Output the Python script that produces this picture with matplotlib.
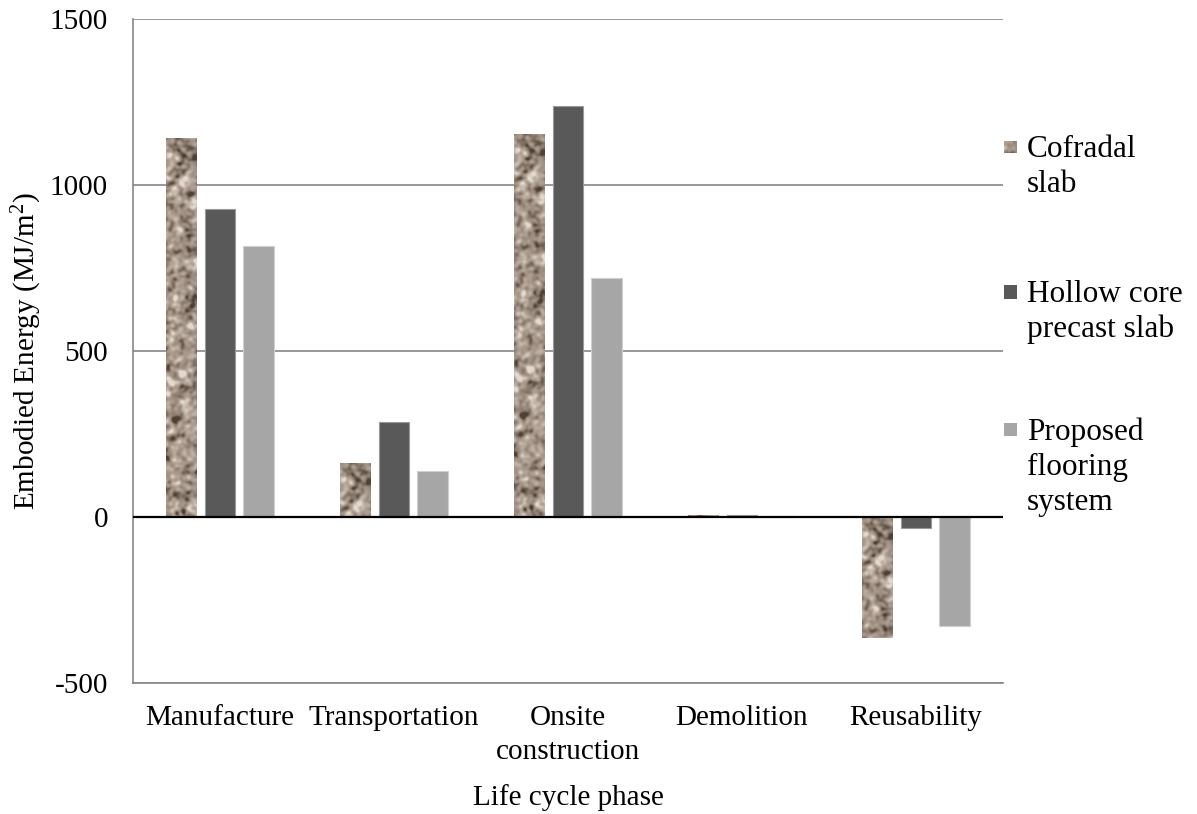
import numpy as np
import matplotlib
matplotlib.use("Agg")
import matplotlib.pyplot as plt
from matplotlib.colors import LinearSegmentedColormap
from matplotlib.patches import Rectangle

# ---- data -----------------------------------------------------------------
phases = ["Manufacture", "Transportation", "Onsite\nconstruction", "Demolition", "Reusability"]
series_names = ["Cofradal\nslab", "Hollow core\nprecast slab", "Proposed\nflooring\nsystem"]
cofradal = [1141, 163, 1154, 6, -364]
hollow_core = [928, 286, 1238, 5, -33]
proposed = [816, 139, 720, 4, -328]
y_ticks = [-500, 0, 500, 1000, 1500]

# ---- style ----------------------------------------------------------------
plt.rcParams["font.family"] = ["Liberation Serif", "DejaVu Serif"]
plt.rcParams["axes.unicode_minus"] = False
plt.rcParams["mathtext.fontset"] = "custom"
plt.rcParams["mathtext.rm"] = "Liberation Serif"
plt.rcParams["mathtext.it"] = "Liberation Serif:italic"
FS = 21
LFS = 22.5
W, H = 1197, 814

fig = plt.figure(figsize=(W / 100, H / 100), dpi=100)
ax = fig.add_axes([133 / W, 1 - 683 / H, (1003 - 133) / W, (683 - 19) / H])


def blur(a, s):
    ky = np.fft.fftfreq(a.shape[0])[:, None]
    kx = np.fft.fftfreq(a.shape[1])[None, :]
    g = np.exp(-2 * (np.pi * s) ** 2 * (ky ** 2 + kx ** 2))
    return np.real(np.fft.ifft2(np.fft.fft2(a) * g))


# granite-like stone texture for the cofradal fill
rng = np.random.default_rng(7)
stone = (blur(rng.standard_normal((520, 64)), 1.7) * 1.0
         + blur(rng.standard_normal((520, 64)), 3.5) * 1.2)
lo, hi = np.percentile(stone, 1), np.percentile(stone, 99)
stone = np.clip((stone - lo) / (hi - lo), 0, 1)
stone_cmap = LinearSegmentedColormap.from_list(
    "stone", ["#4f4035", "#7a6b5f", "#9a8b7e", "#ae9f92", "#c2b6a9", "#e2d9cf"])

x = np.arange(len(phases))
bw = 0.178
step = 0.2227
px_per_unit = (683 - 19) / 2000.0

# hollow core and proposed bars
ax.bar(x, hollow_core, width=bw, color="#595959", edgecolor="#9a9a9a", linewidth=0.8, zorder=3)
ax.bar(x + step, proposed, width=bw, color="#a6a6a6", edgecolor="#d0d0d0", linewidth=0.8, zorder=3)

# cofradal bars with a stone texture clipped to each bar
cof_bars = ax.bar(x - step, cofradal, width=bw, color="#a89a8c", linewidth=0, zorder=3)
for i, rect in enumerate(cof_bars):
    v = cofradal[i]
    hpx = max(2, int(round(abs(v) * px_per_unit)))
    tex = stone[: hpx, 5:5 + 31]
    x0 = rect.get_x()
    im = ax.imshow(tex, cmap=stone_cmap, vmin=0, vmax=1, aspect="auto",
                   extent=[x0, x0 + bw, min(0, v), max(0, v)],
                   interpolation="bilinear", zorder=3.5)
    im.set_clip_path(rect)

ax.set_xlim(-0.5, len(phases) - 0.5)
ax.set_ylim(-500, 1500)
ax.set_aspect("auto")

# grid and zero line
ax.set_yticks(y_ticks)
ax.set_yticklabels([str(t) for t in y_ticks], fontsize=FS)
ax.yaxis.grid(True, color="#868686", linewidth=1.2, zorder=0)
ax.set_axisbelow(True)
ax.axhline(0, color="black", linewidth=1.6, zorder=4)

ax.set_xticks(x)
ax.set_xticklabels(phases, fontsize=FS, linespacing=1.4)
ax.tick_params(axis="y", length=0, pad=18)
ax.tick_params(axis="x", length=0, pad=16)

for side in ["top", "right"]:
    ax.spines[side].set_visible(False)
for side in ["left", "bottom"]:
    ax.spines[side].set_color("#868686")
    ax.spines[side].set_linewidth(1.2)

# axis titles
fig.text(27 / W, 1 - 351 / H, "Embodied Energy (MJ/m$^{2}$)", rotation=90,
         ha="center", va="center", fontsize=FS)
fig.text(568 / W, 1 - 805 / H, "Life cycle phase", ha="center", va="baseline", fontsize=FS)

# legend on the right
legend_baselines = [[157, 192], [302, 337], [440, 475, 510]]
tx = 1027 / W
for name, bases in zip(series_names, legend_baselines):
    for line, b in zip(name.split("\n"), bases):
        fig.text(tx, 1 - b / H, line, ha="left", va="baseline", fontsize=LFS)

sq = 13
# cofradal key: textured square
kx0, ky0 = 1004, legend_baselines[0][0] - 10 - sq / 2
kax = fig.add_axes([kx0 / W, 1 - (ky0 + sq) / H, sq / W, sq / H])
kax.imshow(stone[100:113, 10:23], cmap=stone_cmap, vmin=0, vmax=1, aspect="auto",
           interpolation="bilinear")
kax.axis("off")
for color, bases in zip(["#595959", "#a6a6a6"], legend_baselines[1:]):
    cy = bases[0] - 10
    fig.add_artist(Rectangle((1004 / W, 1 - (cy + sq / 2) / H), sq / W, sq / H,
                             transform=fig.transFigure, facecolor=color, edgecolor="none"))

fig.savefig("out.png", dpi=100)
